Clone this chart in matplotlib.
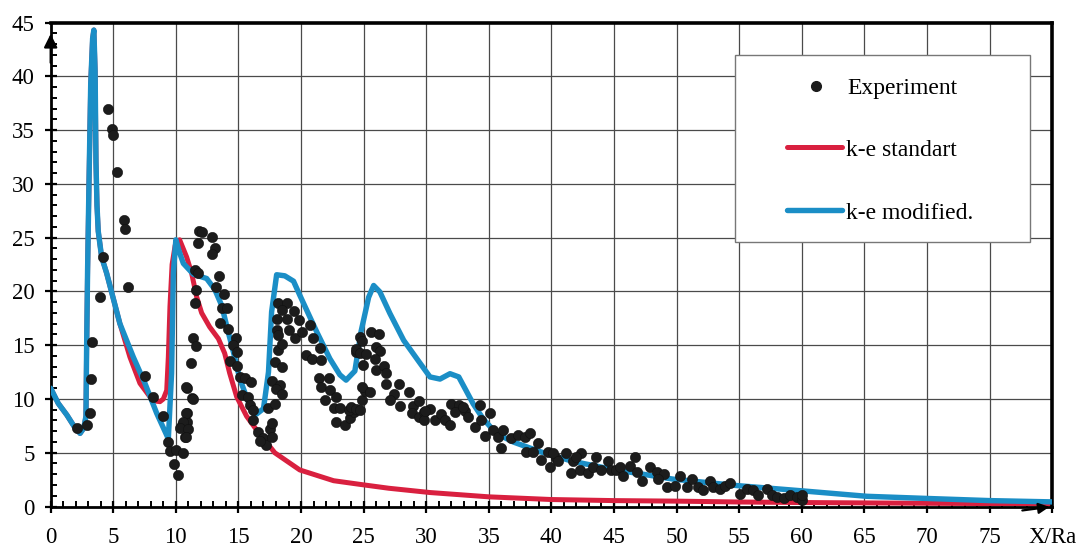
import matplotlib
matplotlib.use("Agg")
import matplotlib.pyplot as plt
from matplotlib.patches import Rectangle
from matplotlib.ticker import MultipleLocator

plt.rcParams['font.family'] = ['Liberation Serif', 'DejaVu Serif']

# ---------------- data ----------------
blue_x = [0, 0.6, 1.3, 1.9, 2.35, 2.65, 2.82, 2.87, 2.95, 3.06, 3.2, 3.35, 3.45, 3.55, 3.62,
          3.7, 3.8, 4.07, 4.47, 5.53, 6.6, 7.53, 8.47, 9.4, 9.66, 9.8, 10.0, 10.3, 10.6, 11.4,
          12.46, 13.1, 13.66, 14.06, 14.6, 15.1, 15.8, 16.45, 17.0, 17.4, 17.65, 18.05, 18.7,
          19.4, 19.9, 21.25, 22.3, 23.1, 23.6, 24.3, 24.8, 25.4, 25.8, 26.3, 27.1, 28.2, 29.4,
          30.3, 31.1, 31.9, 32.6, 33.2, 33.75, 34.55, 35.6, 36.95, 39.1, 41.7, 44.9, 47.6,
          49.7, 54.8, 60.1, 65.2, 70, 75, 80]
blue_y = [11.0, 9.6, 8.5, 7.4, 6.8, 7.3, 8.4, 14.5, 22.0, 30.0, 39.3, 43.5, 44.3, 40.5, 32.0,
          28.0, 25.6, 23.2, 21.7, 17.0, 13.9, 11.46, 8.67, 6.3, 12.4, 21.7, 24.8, 23.6, 22.6, 21.6,
          21.2, 20.2, 18.7, 16.8, 14.35, 11.9, 9.7, 8.6, 9.1, 12.5, 18.1, 21.55, 21.45,
          20.95, 19.65, 16.25, 13.75, 12.25, 11.75, 12.6, 16.3, 19.45, 20.55, 19.95, 17.95, 15.45, 13.5,
          12.05, 11.85, 12.35, 12.05, 10.75, 9.55, 8.15, 6.8, 6.0, 5.1, 4.2, 3.45, 2.95,
          2.55, 1.95, 1.45, 0.95, 0.75, 0.55, 0.43]

red_x = [0, 0.6, 1.3, 1.9, 2.35, 2.65, 2.82, 2.87, 2.95, 3.06, 3.2, 3.35, 3.45, 3.55, 3.62,
         3.7, 3.8, 4.07, 4.47, 5.53, 6.33, 7.13, 7.93, 8.4, 8.73, 9.0, 9.27, 9.4, 9.53, 9.7,
         9.95, 10.3, 10.86, 11.26, 11.66, 12.06, 12.7, 13.4, 13.9, 14.3, 14.86, 15.65, 16.4,
         17.9, 19.9, 22.6, 24.7, 27.0, 30.3, 35, 40, 45, 50, 55, 60, 70, 80]
red_y = [11.0, 9.6, 8.5, 7.4, 6.8, 7.3, 8.4, 14.5, 22.0, 30.0, 39.3, 43.5, 44.3, 40.5, 32.0,
         28.0, 25.6, 23.2, 21.7, 17.0, 13.9, 11.46, 10.2, 9.8, 9.75, 10.0, 10.8, 13.9, 18.6, 22.5,
         24.3, 24.8, 23.2, 21.7, 19.5, 18.0, 16.7, 15.6, 14.25, 12.4, 10.2, 8.4, 7.2,
         5.0, 3.4, 2.4, 2.06, 1.7, 1.3, 0.9, 0.65, 0.55, 0.5, 0.42, 0.37, 0.3, 0.25]

exp_x = [2.08, 2.93, 3.14, 3.19, 3.32, 3.94, 4.15, 4.55, 4.87, 5.0, 5.27, 5.85, 5.96, 6.2, 7.53,
         8.15, 8.94, 9.4, 9.53, 10.0, 10.54, 9.85, 10.2, 10.46, 10.86, 10.73, 10.86, 10.86, 11.26,
         11.18, 11.34, 11.6, 11.5, 11.6, 11.5, 11.8, 11.8, 11.87, 12.06, 12.86, 13.1, 12.86, 13.47,
         13.2, 13.84, 13.66, 14.06, 13.52, 14.19, 14.8, 14.6, 14.9, 14.3, 14.86, 10.8, 11.34, 10.8,
         10.54, 10.33, 11.0, 10.8,
         15.1, 15.5, 15.97, 15.26, 15.8, 15.9, 16.2, 16.13, 16.6, 16.98, 17.2, 16.7, 17.5, 17.7,
         17.65, 17.4, 17.9, 17.7, 18.3, 18.0, 18.45, 17.9, 18.5, 18.2, 18.45, 18.05, 18.2, 18.1,
         18.85, 18.2, 18.85, 18.45, 19.4, 19.0, 19.5, 19.8, 20.05, 20.7, 20.97, 20.4, 20.85, 21.5,
         21.6, 21.4, 22.2, 21.6, 22.3, 21.9, 22.8, 22.6, 23.1, 22.8, 23.5, 23.9, 24.2, 24.4, 23.8,
         24.0, 24.4, 24.7, 24.84,
         25.1, 24.9, 25.5, 24.7, 24.9, 24.4, 24.7, 25.2, 24.97, 25.6, 26.2, 26.0, 26.3, 25.9,
         25.98, 26.6, 26.8, 26.8, 27.8, 27.4, 27.1, 27.9, 28.6, 28.96, 29.4, 28.9, 29.4, 29.8,
         29.8, 30.3, 30.7, 31.2, 31.5, 31.9, 32.0, 32.6, 32.3, 33.1, 33.35, 33.9, 34.3, 34.4,
         34.7, 32.9, 29.9,
         35.1, 35.35, 35.75, 36.15, 36.0, 36.8, 37.35, 37.9, 38.3, 38.0, 38.5, 38.95, 39.2, 39.7,
         39.9, 40.4, 40.1, 40.5, 41.2, 41.7, 41.6, 42.4, 42.3, 42.9, 43.3, 43.6, 44.0, 44.5, 42.0,
         44.8,
         45.2, 45.5, 45.7, 46.3, 46.7, 46.8, 47.2, 47.9, 48.4, 49.0, 48.5, 49.2, 49.9, 50.3, 50.8,
         51.2, 51.7, 52.1, 52.7, 52.9, 53.5, 53.9, 54.3,
         55.1, 55.6, 56.1, 56.5, 57.2, 57.6, 58.0, 58.6, 59.05, 59.6, 59.98, 60.0]
exp_y = [7.28, 7.6, 8.67, 11.9, 15.3, 19.5, 23.2, 37.0, 35.1, 34.5, 31.1, 26.6, 25.8, 20.4, 12.1,
         10.2, 8.4, 6.0, 5.2, 5.26, 4.95, 3.93, 2.94, 7.6, 7.9, 6.5, 8.67, 11.0, 10.06,
         13.3, 15.7, 14.96, 18.9, 20.1, 22.0, 21.7, 24.5, 25.6, 25.56, 25.1, 24.0, 23.5, 21.4,
         20.4, 19.8, 18.5, 18.5, 17.1, 16.5, 15.7, 15.0, 14.4, 13.5, 13.1, 11.1, 10.0, 8.67,
         7.9, 7.28, 7.2, 6.44,
         12.05, 11.95, 11.55, 10.35, 10.2, 9.45, 8.95, 8.05, 6.95, 6.35, 5.75, 6.05, 7.25, 7.75,
         6.5, 9.15, 9.5, 11.65, 11.3, 10.95, 10.45, 13.4, 12.95, 14.55, 15.15, 16.45, 15.95, 17.45,
         17.45, 18.95, 18.95, 18.25, 18.15, 16.45, 15.65, 17.35, 16.25, 16.85, 15.65, 14.05, 13.75, 14.7,
         13.65, 11.95, 11.95, 11.15, 10.85, 9.9, 10.2, 9.15, 9.15, 7.9, 7.6, 8.2, 8.8, 14.4, 8.95,
         9.25, 9.1, 8.95, 9.9,
         10.75, 11.1, 10.65, 15.8, 15.4, 14.6, 14.3, 14.15, 13.2, 16.2, 16.05, 14.85, 14.5, 13.75,
         12.7, 13.05, 12.45, 11.35, 11.35, 10.45, 9.9, 9.35, 10.65, 9.35, 9.85, 8.65, 8.3, 8.75,
         8.0, 9.05, 8.0, 8.6, 8.0, 7.55, 9.55, 9.4, 8.75, 8.9, 8.3, 7.35, 9.4, 8.0,
         6.6, 9.25, 8.9,
         8.65, 7.1, 6.5, 7.1, 5.4, 6.35, 6.65, 6.5, 6.8, 5.1, 5.1, 5.9, 4.3, 5.1,
         3.7, 4.5, 4.95, 4.2, 4.95, 4.2, 3.1, 4.95, 3.4, 3.1, 3.7, 4.6, 3.4, 4.2, 4.6,
         3.4,
         3.35, 3.65, 2.85, 3.8, 4.65, 3.2, 2.4, 3.65, 3.2, 3.05, 2.55, 1.8, 1.95, 2.85, 1.8,
         2.55, 1.8, 1.5, 2.4, 1.8, 1.65, 1.95, 2.2,
         1.2, 1.6, 1.5, 1.05, 1.6, 1.05, 0.9, 0.75, 1.1, 0.9, 0.6, 1.05]

x_ticks = [0, 5, 10, 15, 20, 25, 30, 35, 40, 45, 50, 55, 60, 65, 70, 75, 80]
x_tick_labels = ['0', '5', '10', '15', '20', '25', '30', '35', '40', '45', '50', '55', '60',
                 '65', '70', '75', 'X/Ra']
y_ticks = [0, 5, 10, 15, 20, 25, 30, 35, 40, 45]

legend_labels = ['Experiment', 'k-e standart', 'k-e modified.']

BLUE = '#1b8ec6'
RED = '#d9203f'
DOT = '#1c1c1c'

# ---------------- figure ----------------
fig = plt.figure(figsize=(10.78, 5.56), dpi=100)
ax = fig.add_axes([0.047, 0.089, 0.929, 0.8705])
ax.set_xlim(0, 80)
ax.set_ylim(0, 45)

# grid
for gx in x_ticks[1:-1]:
    ax.axvline(gx, color='#4a4a4a', lw=0.9, zorder=1)
for gy in y_ticks[1:-1]:
    ax.axhline(gy, color='#4a4a4a', lw=0.9, zorder=1)

ax.plot(red_x, red_y, color=RED, lw=3.6, zorder=2, solid_joinstyle='round', solid_capstyle='round')
ax.plot(blue_x, blue_y, color=BLUE, lw=3.9, zorder=3, solid_joinstyle='round', solid_capstyle='round')
ax.plot(exp_x, exp_y, 'o', ms=7.4, color=DOT, mec='#101010', mew=0.4, zorder=4)

# spines
for s in ['left', 'bottom']:
    ax.spines[s].set_linewidth(2.0)
for s in ['top', 'right']:
    ax.spines[s].set_linewidth(2.6)

ax.set_xticks(x_ticks)
ax.set_xticklabels(x_tick_labels)
ax.set_yticks(y_ticks)
ax.xaxis.set_minor_locator(MultipleLocator(1))
ax.yaxis.set_minor_locator(MultipleLocator(1))
ax.tick_params(which='major', direction='inout', length=9, width=1.6, labelsize=16.5,
               top=False, right=False)
ax.tick_params(axis='x', which='major', pad=10)
ax.tick_params(axis='y', which='major', pad=7)
ax.tick_params(which='minor', direction='in', length=4.5, width=1.4, top=False, right=False)

# axis arrows
ax.annotate('', xy=(0, 44.2), xytext=(0, 41.0),
            arrowprops=dict(arrowstyle='-|>', mutation_scale=20, lw=1.6, color='black'),
            annotation_clip=False, zorder=6)
ax.annotate('', xy=(80, 0), xytext=(77.4, -0.4),
            arrowprops=dict(arrowstyle='-|>', mutation_scale=16, lw=1.6, color='black'),
            annotation_clip=False, zorder=6)

# legend (manual)
ax.add_patch(Rectangle((54.7, 24.63), 78.2 - 54.7, 41.97 - 24.63, facecolor='white',
                       edgecolor='#777777', lw=1.0, zorder=7))
ax.plot([61.1], [39.1], 'o', ms=7.0, color=DOT, zorder=8)
ax.text(63.66, 38.35, legend_labels[0], fontsize=17, va='baseline', ha='left', zorder=8)
ax.plot([58.8, 63.2], [33.45, 33.45], color=RED, lw=3.6, solid_capstyle='round', zorder=8)
ax.text(63.5, 32.6, legend_labels[1], fontsize=17, va='baseline', ha='left', zorder=8)
ax.plot([58.8, 63.2], [27.6, 27.6], color=BLUE, lw=3.9, solid_capstyle='round', zorder=8)
ax.text(63.5, 26.7, legend_labels[2], fontsize=17, va='baseline', ha='left', zorder=8)

fig.savefig('out.png', dpi=100)
